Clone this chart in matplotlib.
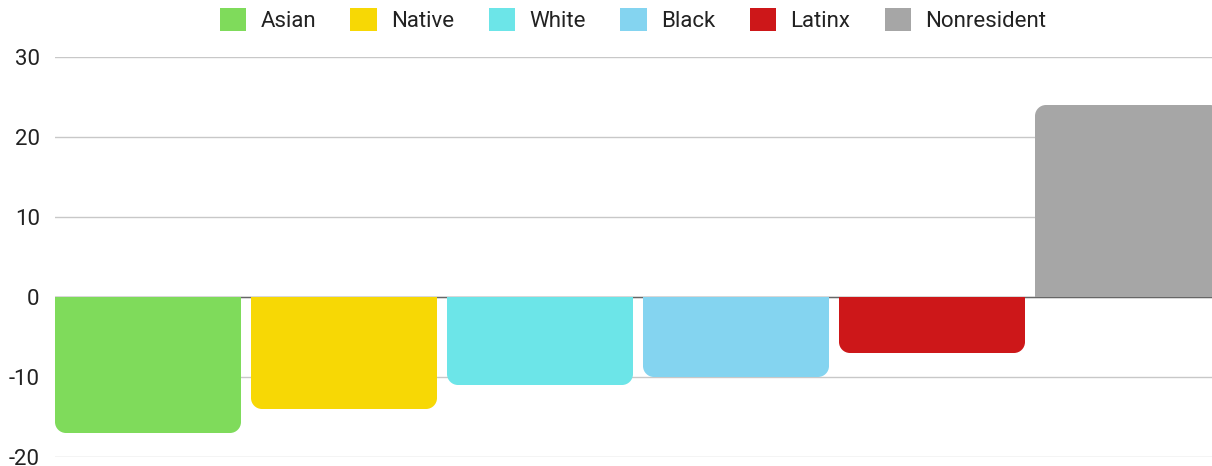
import matplotlib.pyplot as plt
from matplotlib.path import Path
from matplotlib.patches import PathPatch, Patch

plt.rcParams['font.family'] = ['Roboto', 'DejaVu Sans']
plt.rcParams['axes.unicode_minus'] = False

groups = ['Asian', 'Native', 'White', 'Black', 'Latinx', 'Nonresident']
values = [-17, -14, -11, -10, -7, 24]
colors = ['#7fdb5b', '#f7d805', '#6ce5e8', '#84d4f0', '#cd1719', '#a6a6a6']
y_ticks = [-20, -10, 0, 10, 20, 30]

K = 0.5523  # cubic approximation of a quarter circle


def rounded_bar(x0, w, h, rx, ry):
    # rectangle from baseline 0 to h, corners rounded only at the free end
    s = 1 if h >= 0 else -1
    ry = min(ry, abs(h))
    x1 = x0 + w
    verts = [(x0, 0), (x0, h - s * ry),
             (x0, h - s * ry * (1 - K)), (x0 + rx * (1 - K), h), (x0 + rx, h),
             (x1 - rx, h),
             (x1 - rx * (1 - K), h), (x1, h - s * ry * (1 - K)), (x1, h - s * ry),
             (x1, 0), (x0, 0)]
    codes = [Path.MOVETO, Path.LINETO,
             Path.CURVE4, Path.CURVE4, Path.CURVE4,
             Path.LINETO,
             Path.CURVE4, Path.CURVE4, Path.CURVE4,
             Path.LINETO, Path.CLOSEPOLY]
    return Path(verts, codes)


fig = plt.figure(figsize=(12.12, 4.66), dpi=100)
ax = fig.add_axes([55 / 1212, 9 / 466, 1 - 55 / 1212, 400 / 466])

width = 186 / 196
xs = list(range(len(groups)))
bars = ax.bar(xs, values, width=width, color=colors)
r_px = 11
for b, c in zip(bars, colors):
    b.set_visible(False)
    p = rounded_bar(b.get_x(), b.get_width(), b.get_height(), r_px / 196, r_px / 8)
    ax.add_patch(PathPatch(p, facecolor=c, edgecolor='none', zorder=3))

ax.set_ylim(-20, 30)
ax.set_xlim(-width / 2, -width / 2 + 1157 / 196)
ax.set_yticks(y_ticks)
ax.set_yticklabels([str(v) for v in y_ticks])
ax.set_xticks([])
ax.tick_params(axis='y', length=0, pad=11, labelsize=16, labelcolor='#222222')
ax.grid(axis='y', color='#c8c8c8', linewidth=1)
ax.set_axisbelow(True)
ax.axhline(0, color='#666666', linewidth=1, zorder=2)
for s in ax.spines.values():
    s.set_visible(False)

handles = [Patch(facecolor=c, edgecolor='none', label=g) for g, c in zip(groups, colors)]
fig.legend(handles=handles, loc='center', bbox_to_anchor=(633 / 1212, 1 - 20 / 466),
           ncol=6, frameon=False, fontsize=16, handlelength=1.2, handleheight=1.2,
           handletextpad=0.63, columnspacing=1.55, labelcolor='#222222')

fig.savefig('out.png', dpi=100)
